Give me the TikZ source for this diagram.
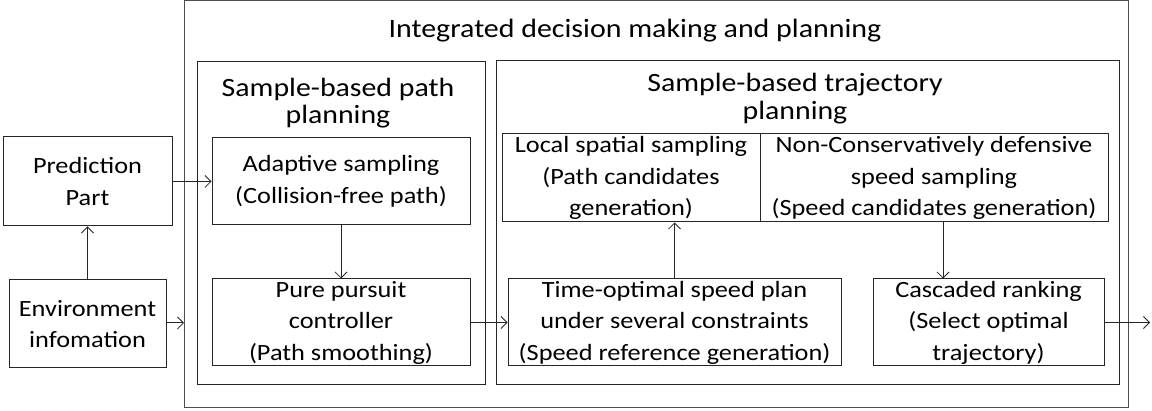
\documentclass[tikz,border=0pt]{standalone}
\usepackage{fontspec}
\setmainfont[FakeStretch=1.13]{Carlito}
\usetikzlibrary{arrows.meta}
\begin{document}
\begin{tikzpicture}[x=1pt,y=-1pt,
  line width=1pt, draw=black!85,
  box/.style={draw, inner sep=0pt, align=center,
    font=\fontsize{23.3}{31.5}\selectfont},
  frame/.style={draw},
  lbl/.style={align=center, inner sep=0pt},
  arr/.style={draw, -{Straight Barb[length=6pt,width=12pt,line width=0.8pt]}}]
\useasboundingbox (0,0) rectangle (1152,411);
% frames: overall module and its two sub-modules
\draw[frame, draw=black!70] (184,1) rectangle (1128,408);
\draw[frame] (197,62) rectangle (485,385);
\draw[frame] (496,61) rectangle (1119,385);
\node[lbl, font=\fontsize{26.5}{28}\selectfont] (title) at (635,30.5) {Integrated decision making and planning};
\node[lbl, font=\fontsize{26.4}{27}\selectfont] (lefttitle) at (338,103) {Sample-based path\\planning};
\node[lbl, font=\fontsize{26.4}{28}\selectfont] (righttitle) at (795,99) {Sample-based trajectory\\planning};
\coordinate (outerleft) at (184,323);
\coordinate (outend) at (1150,322.5);
\coordinate (speeddown) at (943,222);
% process boxes
\node[box, minimum width=169pt, minimum height=89pt] (pred) at (87.5,181.5) {Prediction\\Part};
\node[box, minimum width=157pt, minimum height=88pt] (env) at (87.5,324) {Environment\\infomation};
\node[box, minimum width=258pt, minimum height=87pt] (adapt) at (341,181.5) {Adaptive sampling\\(Collision-free path)};
\node[box, minimum width=258pt, minimum height=87pt] (pure) at (341,322.5) {Pure pursuit\\controller\\(Path smoothing)};
\node[box, minimum width=258pt, minimum height=88pt] (local) at (631,178) {Local spatial sampling\\(Path candidates\\generation)};
\node[box, minimum width=348pt, minimum height=88pt] (speed) at (934,178) {Non-Conservatively defensive\\speed sampling\\(Speed candidates generation)};
\node[box, minimum width=333pt, minimum height=87pt] (timeopt) at (674.5,322.5) {Time-optimal speed plan\\under several constraints\\(Speed reference generation)};
\node[box, minimum width=231pt, minimum height=87pt] (rank) at (988.5,322.5) {Cascaded ranking\\(Select optimal\\trajectory)};
% connectors
\draw[arr] (env.north) -- (pred.south);
\draw[arr] (pred.east) -- (adapt.west);
\draw[arr] (env.east |- outerleft) -- (outerleft);
\draw[arr] (adapt.south) -- (pure.north);
\draw[arr] (pure.east) -- (timeopt.west);
\draw[arr] (timeopt.north) -- (timeopt.north |- local.south);
\draw[arr] (speeddown) -- (speeddown |- rank.north);
\draw[arr] (rank.east) -- (outend);
\end{tikzpicture}
\end{document}
